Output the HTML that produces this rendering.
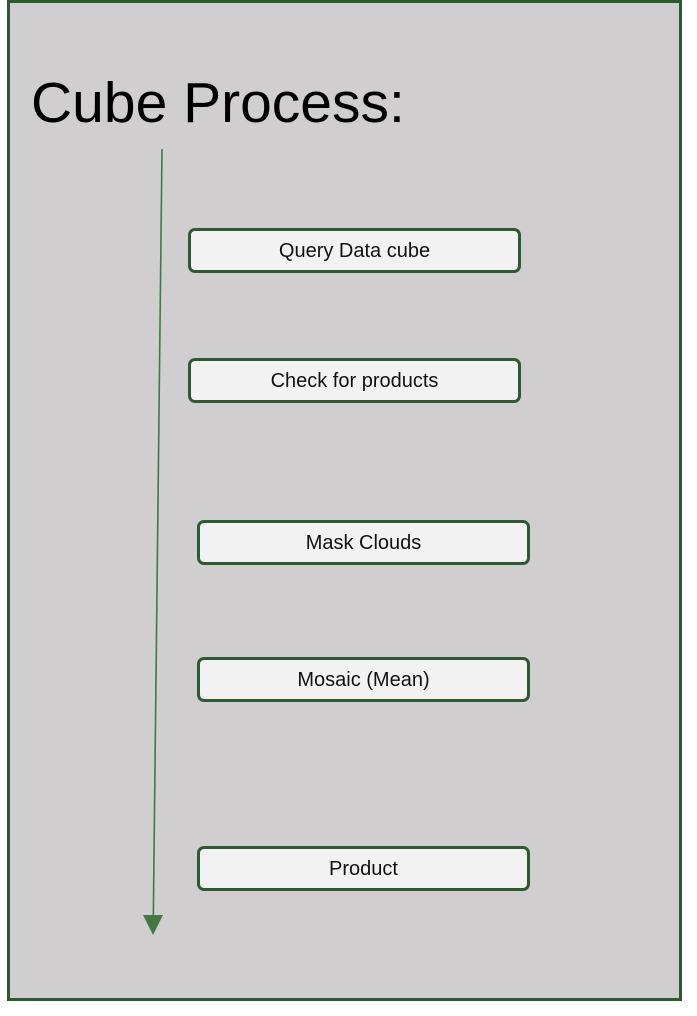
<!DOCTYPE html>
<html><head><meta charset="utf-8"><style>
html,body{margin:0;padding:0;background:#fff;width:697px;height:1016px;overflow:hidden;font-family:"Liberation Sans",sans-serif}
.outer{position:absolute;left:7px;top:0;width:669px;height:995px;border:3px solid #2d5a32;background:#d0cece}
.t{position:absolute;left:31px;top:70px;font-size:57px;color:#000;white-space:nowrap}
.b{position:absolute;box-sizing:border-box;width:333px;height:45px;border:3px solid #2d5a32;border-radius:7px;background:#f2f2f2;font-size:20px;color:#111;text-align:center;line-height:41px}
svg{position:absolute;left:0;top:0}
</style></head><body>
<div class="outer"></div>
<div class="t">Cube Process:</div>
<svg width="697" height="1016"><line x1="162" y1="149" x2="153.3" y2="918" stroke="#3f7a44" stroke-width="1.6"/><polygon points="143,915 163,915 153,935" fill="#3f7a44"/></svg>
<div class="b" style="left:188px;top:228px">Query Data cube</div>
<div class="b" style="left:188px;top:358px">Check for products</div>
<div class="b" style="left:197px;top:520px">Mask Clouds</div>
<div class="b" style="left:197px;top:657px">Mosaic (Mean)</div>
<div class="b" style="left:197px;top:846px">Product</div>
</body></html>
